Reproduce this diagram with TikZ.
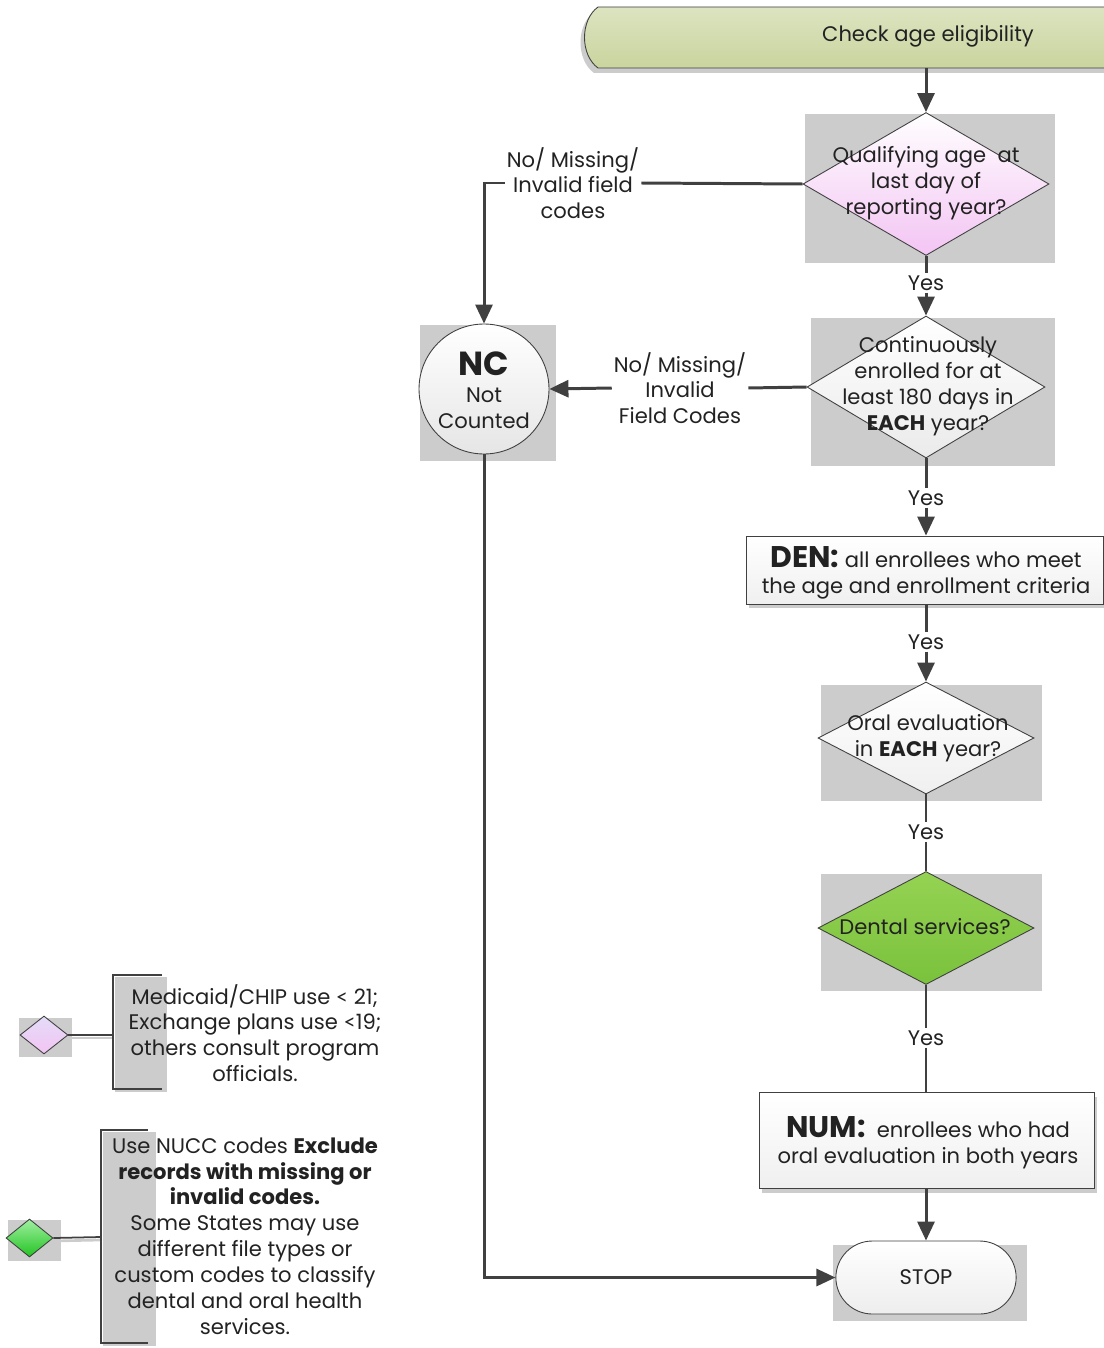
\documentclass[tikz,border=0pt]{standalone}
\usepackage{fontspec}
\setmainfont{Poppins}
\newfontfamily\ltfont{Lato}
\usetikzlibrary{shapes.geometric,shapes.misc,arrows.meta,shadows}
\definecolor{ln}{HTML}{404040}
\definecolor{bgg}{HTML}{CCCCCC}
\definecolor{tx}{HTML}{222222}
\definecolor{pinkd}{HTML}{F3C4F3}
\definecolor{lavt}{HTML}{E4DCF8}
\definecolor{greent}{HTML}{95D253}
\definecolor{greenb}{HTML}{7AC23C}
\definecolor{lgt}{HTML}{A0F0A0}
\definecolor{lgb}{HTML}{22C322}
\definecolor{bant}{HTML}{DCE4C0}
\definecolor{banb}{HTML}{C9D49E}
\newcommand{\bigbold}{\fontsize{17}{17}\selectfont\bfseries}
\newcommand{\lessthan}{{\ltfont <}}
\begin{document}
\begin{tikzpicture}[x=0.02cm,y=-0.02cm,
  txt/.style={font=\fontsize{12}{14.7}\selectfont, align=center, inner sep=1pt, text=tx},
  conn/.style={draw=ln, line width=1.7pt},
  thin/.style={draw=ln, line width=1pt},
  arr/.style={conn, -{Triangle[length=0.38cm,width=0.34cm]}},
  dia/.style={diamond, draw=ln, line width=0.5pt, inner sep=0pt},
  boxs/.style={rectangle, draw=ln, line width=0.5pt, top color=white, bottom color=black!6,
     general shadow={fill=bgg, shadow xshift=0.06cm, shadow yshift=-0.09cm}}]
\useasboundingbox (0,0) rectangle (1104,1348);

% ---------- banner ----------
\fill[bgg] (594,12) -- (1104,12) -- (1104,73) -- (594,73) .. controls (576,60) and (576,25) .. (594,12) -- cycle;
\path[draw=ln, line width=0.5pt, top color=bant, bottom color=banb]
  (598,7) -- (1106,7) -- (1106,68) -- (598,68) .. controls (580,55) and (580,20) .. (598,7) -- cycle;
\node[txt] (start) at (928,36) {Check age eligibility};
\coordinate (bannerb) at (926,68);

% ---------- gray backgrounds ----------
\fill[bgg] (805,114) rectangle (1055,263);
\fill[bgg] (811,318) rectangle (1055,466);
\fill[bgg] (420,325) rectangle (556,461);
\fill[bgg] (821,685) rectangle (1042,801);
\fill[bgg] (821,874) rectangle (1042,991);
\fill[bgg] (833,1245) rectangle (1027,1321);

% ---------- decisions ----------
\node[dia, minimum width=4.92cm, minimum height=2.86cm, top color=white, bottom color=pinkd] (d1) at (926,184) {};
\node[txt] (t1) at (926,183) {Qualifying age\ \ at\\last day of\\reporting year?};

\node[dia, minimum width=4.76cm, minimum height=2.84cm, top color=white, bottom color=black!8] (d2) at (926,387) {};
\node[txt] (t2) at (928,386) {Continuously\\enrolled for at\\least 180 days in\\\textbf{EACH} year?};

\node[dia, minimum width=4.32cm, minimum height=2.24cm, top color=white, bottom color=black!6] (d3) at (926,738) {};
\node[txt] (t3) at (928,738) {Oral evaluation\\in \textbf{EACH} year?};

\node[dia, minimum width=4.32cm, minimum height=2.26cm, top color=greent, bottom color=greenb] (d4) at (926,928) {};
\node[txt] (t4) at (925,927) {Dental services?};

% ---------- NC ----------
\node[circle, draw=ln, line width=0.5pt, minimum size=2.6cm, inner sep=0pt, top color=white, bottom color=black!10] (nc) at (484,389) {};
\node[txt] (nct) at (484,390) {{\fontsize{19}{20}\selectfont\bfseries NC}\\[1pt]Not\\Counted};

% ---------- boxes ----------
\node[boxs, minimum width=7.14cm, minimum height=1.36cm] (den) at (924.5,570) {};
\node[txt] (dent) at (926,573) {{\bigbold DEN:} all enrollees who meet\\the age and enrollment criteria};

\node[boxs, minimum width=6.7cm, minimum height=1.92cm] (num) at (926.5,1140) {};
\node[txt] (numt) at (928,1143) {{\bigbold NUM:} \ enrollees who had\\oral evaluation in both years};

\node[rounded rectangle, draw=ln, line width=0.5pt, minimum width=3.84cm, minimum height=1.46cm, top color=white, bottom color=black!7] (stop) at (926,1277.5) {};
\node[txt] (stopt) at (926,1277) {STOP};

% ---------- labels ----------
\node[txt] (y1) at (926,283) {Yes};
\node[txt] (y2) at (926,498) {Yes};
\node[txt] (y3) at (926,642) {Yes};
\node[txt] (y4) at (926,832) {Yes};
\node[txt] (y5) at (926,1038) {Yes};
\node[txt] (l1) at (573,183) {No/ Missing/\\Invalid field\\codes};
\node[txt] (l2) at (680,388) {No/ Missing/\\Invalid\\Field Codes};

% ---------- connectors ----------
\draw[arr] (bannerb) -- (d1.north);
\draw[conn] (d1.south) -- (y1.north);
\draw[arr] (y1.south) -- (d2.north);
\draw[conn] (d2.south) -- (y2.north);
\draw[arr] (y2.south) -- (den.north -| y2.south);
\draw[conn] (den.south -| y3.north) -- (y3.north);
\draw[arr] (y3.south) -- (d3.north);
\draw[thin] (d3.south) -- (y4.north);
\draw[thin] (y4.south) -- (d4.north);
\draw[thin] (d4.south) -- (y5.north);
\draw[thin] (y5.south) -- (num.north -| y5.south);
\draw[arr] (num.south -| stop.north) -- (stop.north);
\draw[conn] (d1.west) -- (l1.east);
\draw[arr] (l1.west) -| (nc.north);
\draw[conn] (d2.west) -- (l2.east);
\draw[arr] (l2.west) -- (nc.east);
\draw[arr] (nc.south) |- (stop.west);

% ---------- legend 1 ----------
\fill[bgg] (19,1018) rectangle (72,1057);
\node[dia, minimum width=0.96cm, minimum height=0.76cm, top color=lavt, bottom color=pinkd] (lg1) at (44,1035) {};
\fill[bgg] (115,977) rectangle (167,1092);
\coordinate (br1) at (113,1035);
\draw[bgg, line width=1.5pt] ([yshift=-0.06cm]lg1.east) -- ([yshift=-0.06cm]br1);
\draw[thin] (lg1.east) -- (br1);
\draw[thin] (162,975) -- (113,975) -- (113,1089) -- (162,1089);
\node[txt] (n1) at (255,1033) {Medicaid/CHIP use \lessthan{} 21;\\Exchange plans use \lessthan19;\\others consult program\\officials.};

% ---------- legend 2 ----------
\fill[bgg] (8,1220) rectangle (61,1261);
\node[dia, minimum width=0.94cm, minimum height=0.76cm, top color=lgt, bottom color=lgb] (lg2) at (29.5,1238) {};
\fill[bgg] (103,1132) rectangle (156,1346);
\coordinate (br2) at (101,1237);
\draw[bgg, line width=1.5pt] ([yshift=-0.06cm]lg2.east) -- ([yshift=-0.06cm]br2);
\draw[thin] (lg2.east) -- (br2);
\draw[thin] (148,1130) -- (101,1130) -- (101,1343) -- (148,1343);
\node[txt] (n2) at (245,1236) {Use NUCC codes \textbf{Exclude}\\\textbf{records with missing or}\\\textbf{invalid codes.}\\Some States may use\\different file types or\\custom codes to classify\\dental and oral health\\services.};
\end{tikzpicture}
\end{document}
